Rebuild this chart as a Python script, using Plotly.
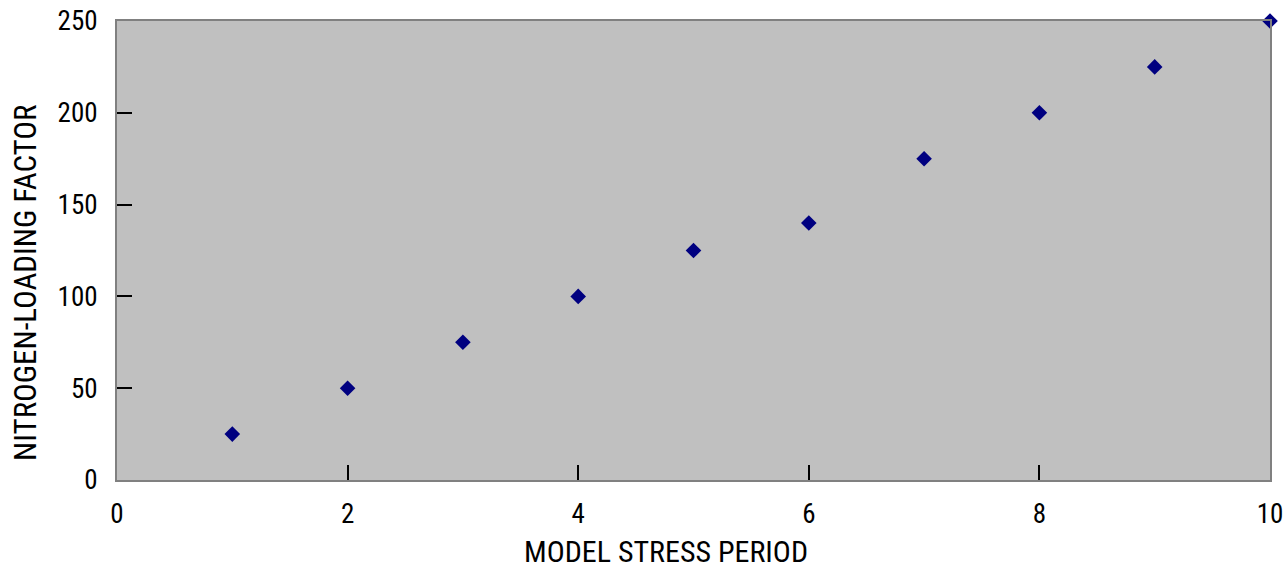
import plotly.graph_objects as go

periods = [1, 2, 3, 4, 5, 6, 7, 8, 9, 10]
factors = [25, 50, 75, 100, 125, 140, 175, 200, 225, 250]
x_ticks = [0, 2, 4, 6, 8, 10]
y_ticks = [0, 50, 100, 150, 200, 250]
x_title = "MODEL STRESS PERIOD"
y_title = "NITROGEN-LOADING FACTOR"

font_family = "Roboto Condensed, Liberation Sans Narrow, Arial Narrow, sans-serif"

W, H = 1283, 573
L, R, T, B = 117, 13, 21, 93
pw, ph = W - L - R, H - T - B

fig = go.Figure(go.Scatter(
    x=periods, y=factors, mode="markers",
    marker=dict(symbol="diamond", size=12, color="#000080"),
    cliponaxis=False, showlegend=False,
))

axis_common = dict(
    showgrid=False, zeroline=False, showline=True, linecolor="#808080", linewidth=2,
    mirror=True, ticks="inside", ticklen=15, tickcolor="black", tickwidth=1.5,
    tickfont=dict(family=font_family, size=27, color="black"), automargin=False,
    ticklabeloverflow="allow",
)

fig.update_layout(
    width=W, height=H,
    margin=dict(l=L, r=R, t=T, b=B),
    paper_bgcolor="white", plot_bgcolor="#C0C0C0",
    font=dict(family=font_family, color="black"),
    xaxis=dict(range=[0, 10], tickvals=x_ticks, ticklabelstandoff=9, **axis_common),
    yaxis=dict(range=[0, 250], tickvals=y_ticks, ticklabelstandoff=12, **axis_common),
    annotations=[
        dict(text=x_title, xref="paper", yref="paper", showarrow=False,
             x=(666 - L) / pw, y=(H - B - 551) / ph, xanchor="center", yanchor="middle",
             font=dict(family=font_family, size=30, color="black")),
        dict(text=y_title, xref="paper", yref="paper", showarrow=False, textangle=-90,
             x=(25 - L) / pw, y=(H - B - 283) / ph, xanchor="center", yanchor="middle",
             font=dict(family=font_family, size=31, color="black")),
    ],
)

fig.write_html("out.html", config={"displayModeBar": False},
               post_script="document.body.style.margin='0';")
